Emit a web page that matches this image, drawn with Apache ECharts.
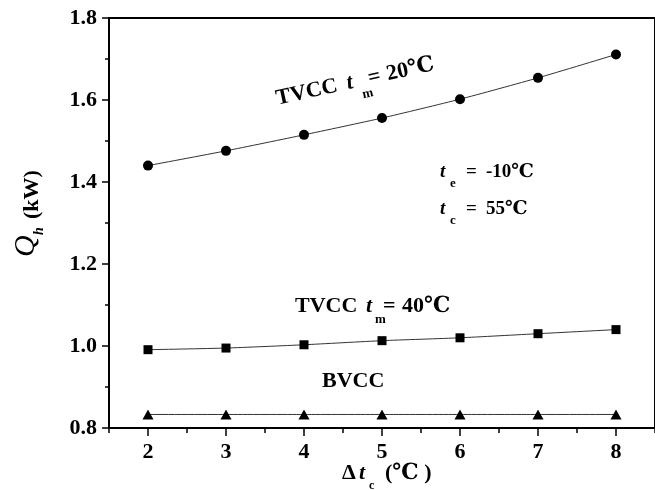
<!DOCTYPE html>
<html>
<head>
<meta charset="utf-8">
<script src="https://cdn.jsdelivr.net/npm/echarts@6/dist/echarts.min.js"></script>
<style>
  html, body { margin: 0; padding: 0; background: #fff; }
  #chart { width: 655px; height: 490px; }
</style>
</head>
<body>
<div id="chart"></div>
<script>
// Temperature difference Δt_c (°C)
const deltaTc = [2, 3, 4, 5, 6, 7, 8];
// Heating capacity Q_h (kW)
const tvcc20 = [1.440, 1.476, 1.515, 1.556, 1.602, 1.654, 1.711];
const tvcc40 = [0.991, 0.995, 1.003, 1.013, 1.020, 1.030, 1.040];
const bvcc = [0.833, 0.833, 0.833, 0.833, 0.833, 0.833, 0.833];
// Axis ticks
const xMajorTicks = [2, 3, 4, 5, 6, 7, 8];
const xMinorTicks = [1.5, 2.5, 3.5, 4.5, 5.5, 6.5, 7.5, 8.5];

const SERIF = '"Times New Roman","Liberation Serif","DejaVu Serif",serif';
const BLACK = '#000';

function pairs(ys) { return deltaTc.map((x, i) => [x, ys[i]]); }

function txt(x, y, text, size, opts) {
  opts = opts || {};
  return {
    type: 'text', x: x, y: y, silent: true,
    style: {
      text: text,
      fontFamily: SERIF,
      fontSize: size,
      fontWeight: opts.weight || 'bold',
      fontStyle: opts.italic ? 'italic' : 'normal',
      fill: BLACK,
      align: 'left',
      verticalAlign: 'middle'
    }
  };
}

function lineSeries(name, ys, symbol, size) {
  return {
    name: name, type: 'line', data: pairs(ys),
    smooth: 0.2,
    symbol: symbol, symbolSize: size, showSymbol: true,
    lineStyle: { color: '#333', width: 1 },
    itemStyle: { color: BLACK },
    z: 3
  };
}

const chart = echarts.init(document.getElementById('chart'), null, { renderer: 'canvas' });

chart.setOption({
  animation: false,
  backgroundColor: '#fff',
  grid: {
    left: 109, top: 18, width: 551, height: 410,
    show: true, borderColor: BLACK, borderWidth: 2, backgroundColor: 'transparent'
  },
  xAxis: [
    {
      type: 'value', min: 1.5, max: 8.5, position: 'bottom',
      axisLine: { show: true, lineStyle: { color: BLACK, width: 2 } },
      axisTick: { show: true, customValues: xMajorTicks, length: 8, inside: false,
                  lineStyle: { color: BLACK, width: 1.5 } },
      axisLabel: { show: true, customValues: xMajorTicks, margin: 13,
                   fontFamily: SERIF, fontSize: 22, fontWeight: 'bold', color: BLACK },
      splitLine: { show: false }
    },
    {
      // half-step ticks drawn just below the bottom axis line
      type: 'value', min: 1.5, max: 8.5, position: 'top', offset: -410,
      axisLine: { show: false },
      axisTick: { show: true, customValues: xMinorTicks, length: 5, inside: true,
                  lineStyle: { color: BLACK, width: 1.5 } },
      axisLabel: { show: false },
      splitLine: { show: false }
    }
  ],
  yAxis: {
    type: 'value', min: 0.8, max: 1.8, interval: 0.2,
    axisLine: { show: true, lineStyle: { color: BLACK, width: 2 } },
    axisTick: { show: true, length: 7, inside: false, lineStyle: { color: BLACK, width: 1.5 } },
    minorTick: { show: true, splitNumber: 2, length: 4, lineStyle: { color: BLACK, width: 1.5 } },
    axisLabel: { margin: 12, fontFamily: SERIF, fontSize: 22, fontWeight: 'bold', color: BLACK,
                 formatter: v => v.toFixed(1) },
    splitLine: { show: false }
  },
  series: [
    lineSeries('TVCC tm=20', tvcc20, 'circle', 10),
    lineSeries('TVCC tm=40', tvcc40, 'rect', 9),
    lineSeries('BVCC', bvcc, 'triangle', [11, 10])
  ],
  graphic: [
    // curve label, tilted along the upper curve
    {
      type: 'group', x: 278, y: 106.5, rotation: 0.218, silent: true,
      children: [
        txt(0, -7.5, 'TVCC', 22),
        txt(72, -7.5, 't', 22, { italic: true }),
        txt(85, 7, 'm', 13),
        txt(94, -7.5, '=', 22),
        txt(113, -7.5, '20℃', 22)
      ]
    },
    // middle curve label
    txt(295, 306, 'TVCC', 22),
    txt(366, 306, 't', 22, { italic: true }),
    txt(375, 319.5, 'm', 13),
    txt(383, 306, '=', 22),
    txt(402, 306, '40℃', 22),
    // bottom curve label
    txt(322, 381, 'BVCC', 22),
    // operating conditions
    txt(440, 172.5, 't', 19, { italic: true }),
    txt(450, 183.5, 'e', 13),
    txt(466, 172.5, '=', 19),
    txt(486, 172.5, '-10℃', 19),
    txt(440, 209.5, 't', 19, { italic: true }),
    txt(450, 221, 'c', 13),
    txt(466, 209.5, '=', 19),
    txt(486, 209.5, '55℃', 19),
    // x axis title
    txt(342, 473.5, 'Δ', 22),
    txt(359, 473.5, 't', 22, { italic: true }),
    txt(369, 486, 'c', 12),
    txt(385, 473.5, '(℃ )', 22),
    // y axis title, reading upwards
    {
      type: 'group', x: 36, y: 257, rotation: Math.PI / 2, silent: true,
      children: [
        txt(0, -10, 'Q', 30, { italic: true, weight: 'normal' }),
        txt(22, 3, 'h', 14, { italic: true }),
        txt(38, -4, '(kW)', 22)
      ]
    }
  ]
});
</script>
</body>
</html>
